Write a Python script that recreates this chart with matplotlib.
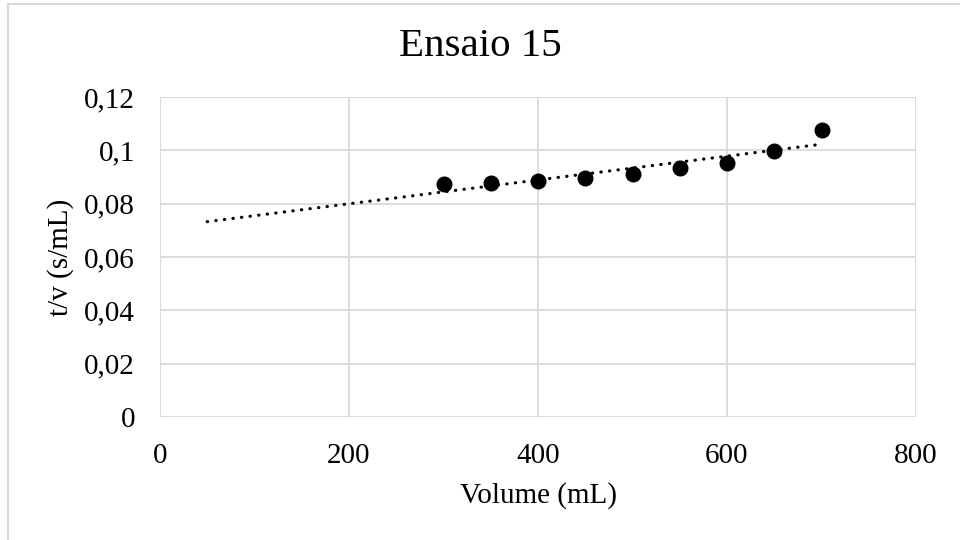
import numpy as np
import matplotlib
matplotlib.use("Agg")
import matplotlib.pyplot as plt
from matplotlib.lines import Line2D

volume = [300, 350, 400, 450, 500, 550, 600, 650, 700]
tv = [0.0873, 0.0879, 0.0885, 0.0895, 0.0911, 0.0934, 0.0951, 0.0998, 0.1076]
x_ticks = [0, 200, 400, 600, 800]
x_tick_labels = ["0", "200", "400", "600", "800"]
y_ticks = [0, 0.02, 0.04, 0.06, 0.08, 0.10, 0.12]
y_tick_labels = ["0", "0,02", "0,04", "0,06", "0,08", "0,1", "0,12"]
trend_x_start = 50

plt.rcParams['font.family'] = ['Liberation Serif', 'DejaVu Serif']

fig = plt.figure(figsize=(9.6, 5.4), dpi=100)
ax = fig.add_axes([160/960, 1-417/540, (916-160)/960, (417-97)/540])

grid_c = '#d9d9d9'
ax.set_xlim(0, 800)
ax.set_ylim(0, 0.12)
ax.set_xticks(x_ticks)
ax.set_xticklabels(x_tick_labels)
ax.set_yticks(y_ticks)
ax.set_yticklabels(y_tick_labels)
ax.grid(True, color=grid_c, lw=1.3)
ax.set_axisbelow(True)
for s in ax.spines.values():
    s.set_visible(False)
ax.tick_params(length=0, labelsize=21, pad=0)
ax.tick_params(axis='y', pad=18)
ax.tick_params(axis='x', pad=18.5)

# trendline (linear least squares, extended backward)
coef = np.polyfit(volume, tv, 1)
tx = np.array([trend_x_start, max(volume)])
ax.plot(tx, np.polyval(coef, tx), color='black', lw=2.3,
        linestyle=(0, (0.1, 2.6)), dash_capstyle='round', zorder=2)

ax.plot(volume, tv, 'o', color='black', markersize=10.5, zorder=3)

fig.text(0.5, 1-46/540, "Ensaio 15", fontsize=29.5, ha='center', va='center')
ax.set_xlabel("Volume (mL)", fontsize=21, labelpad=9.5)
ax.set_ylabel("t/v (s/mL)", fontsize=21, labelpad=7)

# outer chart frame (partially visible)
fig.add_artist(Line2D([7.5/960, 7.5/960], [0, 1-3.5/540], transform=fig.transFigure, color=grid_c, lw=1.5))
fig.add_artist(Line2D([7.5/960, 1], [1-3.5/540, 1-3.5/540], transform=fig.transFigure, color=grid_c, lw=1.5))

fig.savefig("out.png", dpi=100)
